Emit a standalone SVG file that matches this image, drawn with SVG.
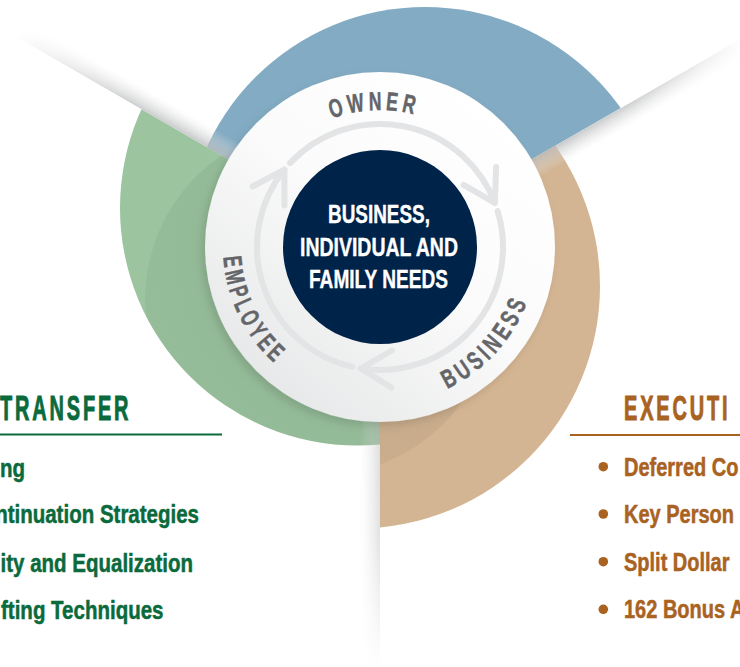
<svg xmlns="http://www.w3.org/2000/svg" width="740" height="667" viewBox="0 0 740 667">
  <defs>
    <style>
      .ring { font-family: "Liberation Sans", Arial, sans-serif; font-weight: 700; font-size: 26px; fill: #646569; stroke: #646569; stroke-width: 0.5px; letter-spacing: 6px; }
      .core { font-family: "Liberation Sans", Arial, sans-serif; font-weight: 700; font-size: 26px; fill: #ffffff; stroke: #ffffff; stroke-width: 0.4px; }
      .head { font-family: "Liberation Sans", Arial, sans-serif; font-weight: 700; font-size: 35px; letter-spacing: 5px; stroke-width: 1px; }
      .item { font-family: "Liberation Sans", Arial, sans-serif; font-weight: 700; font-size: 25px; stroke-width: 0.5px; }
      .green { fill: #0b6a3c; stroke: #0b6a3c; }
      .brown { fill: #a9621f; stroke: #a9621f; }
      .arc { fill: none; stroke: #e3e4e5; stroke-width: 6; stroke-linecap: round; stroke-linejoin: round; }
    </style>
    <clipPath id="wBlue"><polygon points="380,247 -139.6,-53 -139.6,-400 899.6,-400 899.6,-53"/></clipPath>
    <clipPath id="wTan"><polygon points="380,247 899.6,-53 1200,-53 1200,1200 380,1200"/></clipPath>
    <clipPath id="wGreen"><polygon points="380,247 380,1200 -600,1200 -600,-53 -139.6,-53"/></clipPath>
    <clipPath id="cTan"><circle cx="357.5" cy="286" r="242.5"/></clipPath>
    <clipPath id="cGreen"><circle cx="357.5" cy="208" r="237.5"/></clipPath>
    <radialGradient id="lensGrad" gradientUnits="userSpaceOnUse" cx="380" cy="247" r="270">
      <stop offset="0.62" stop-color="#1a2a20" stop-opacity="0.07"/>
      <stop offset="1" stop-color="#1a2a20" stop-opacity="0.04"/>
    </radialGradient>
    <linearGradient id="bandPerp" x1="0" y1="0" x2="0" y2="1">
      <stop offset="0" stop-color="#b9babc" stop-opacity="0.85"/>
      <stop offset="0.5" stop-color="#cfd0d1" stop-opacity="0.45"/>
      <stop offset="1" stop-color="#e8e8e8" stop-opacity="0"/>
    </linearGradient>
    <linearGradient id="bandAlong" x1="0" y1="0" x2="1" y2="0">
      <stop offset="0" stop-color="#fff" stop-opacity="1"/>
      <stop offset="0.5" stop-color="#fff" stop-opacity="0.85"/>
      <stop offset="1" stop-color="#fff" stop-opacity="0"/>
    </linearGradient>
    <mask id="bandFade" maskUnits="userSpaceOnUse" x="0" y="-50" width="500" height="120">
      <rect x="150" y="0" width="270" height="20" fill="url(#bandAlong)"/>
    </mask>
    <linearGradient id="discGrad" x1="0.85" y1="0.1" x2="0.15" y2="0.95">
      <stop offset="0" stop-color="#ffffff"/>
      <stop offset="0.45" stop-color="#fbfbfb"/>
      <stop offset="1" stop-color="#e5e6e7"/>
    </linearGradient>
    <filter id="soft" x="-20%" y="-20%" width="140%" height="140%">
      <feDropShadow dx="-3" dy="4" stdDeviation="4" flood-color="#000" flood-opacity="0.12"/>
    </filter>
    <path id="pTop" d="M243,247 A137,137 0 0 1 517,247"/>
    <path id="pBot" d="M223,247 A157,157 0 0 0 537,247"/>
  </defs>

  <rect width="740" height="667" fill="#ffffff"/>

  <g id="sector-owner">
    <g clip-path="url(#wBlue)">
      <circle cx="425" cy="247" r="240" fill="#83acc4"/>
    </g>
  </g>
  <g id="sector-business">
    <g clip-path="url(#wTan)">
      <circle cx="357.5" cy="286" r="242.5" fill="#d4b593"/>
      <g clip-path="url(#cTan)"><circle cx="320" cy="300" r="175" fill="url(#lensGrad)"/></g>
    </g>
  </g>
  <g id="sector-employee">
    <g clip-path="url(#wGreen)">
      <circle cx="357.5" cy="208" r="237.5" fill="#9cc49f"/>
      <g clip-path="url(#cGreen)"><circle cx="320" cy="300" r="175" fill="url(#lensGrad)"/></g>
    </g>
  </g>

  <g id="dividers">
    <g transform="translate(380,247) rotate(210)">
      <rect x="150" y="0" width="270" height="20" fill="url(#bandPerp)" mask="url(#bandFade)"/>
    </g>
    <g transform="translate(380,247) rotate(330)">
      <rect x="150" y="0" width="270" height="20" fill="url(#bandPerp)" mask="url(#bandFade)"/>
    </g>
    <g transform="translate(380,247) rotate(90)" opacity="0.6">
      <rect x="150" y="0" width="270" height="20" fill="url(#bandPerp)" mask="url(#bandFade)"/>
    </g>
  </g>

  <g id="ring">
    <circle cx="380" cy="247" r="175" fill="url(#discGrad)" filter="url(#soft)"/>
    <text class="ring"><textPath href="#pTop" startOffset="166" textLength="87" lengthAdjust="spacingAndGlyphs">OWNER</textPath></text>
    <text class="ring"><textPath href="#pBot" startOffset="316" textLength="124" lengthAdjust="spacingAndGlyphs">BUSINESS</textPath></text>
    <text class="ring"><textPath href="#pBot" startOffset="10" textLength="124" lengthAdjust="spacingAndGlyphs">EMPLOYEE</textPath></text>
  </g>

  <g id="connectors">
    <path class="arc" d="M290.04,163.11 A123,123 0 0 1 494.83,202.92"/>
    <path class="arc" d="M496.09,166.94 L494.83,202.92 L463.65,184.92"/>
    <path class="arc" d="M497.62,211.04 A123,123 0 0 1 360.76,368.49"/>
    <path class="arc" d="M391.94,350.49 L360.76,368.49 L391.29,387.57"/>
    <path class="arc" d="M352.33,366.85 A123,123 0 0 1 284.41,169.59"/>
    <path class="arc" d="M252.62,186.49 L284.41,169.59 L284.41,205.59"/>
  </g>

  <g id="center-needs">
    <circle cx="380" cy="247" r="97" fill="#00234a"/>
    <text class="core" x="328" y="223" textLength="102" lengthAdjust="spacingAndGlyphs">BUSINESS,</text>
    <text class="core" x="300" y="256" textLength="158" lengthAdjust="spacingAndGlyphs">INDIVIDUAL AND</text>
    <text class="core" x="309" y="288" textLength="139" lengthAdjust="spacingAndGlyphs">FAMILY NEEDS</text>
  </g>

  <g id="list-transfer">
    <text class="head green" transform="translate(0,420) scale(0.57,1)">TRANSFER</text>
    <line x1="0" y1="434.5" x2="222" y2="434.5" stroke="#0b6a3c" stroke-width="2"/>
    <text class="item green" text-anchor="end" transform="translate(25,476.5) scale(0.82,1)">ing</text>
    <text class="item green" text-anchor="end" transform="translate(199,523) scale(0.82,1)">ntinuation Strategies</text>
    <text class="item green" text-anchor="end" transform="translate(193,571.5) scale(0.82,1)">ity and Equalization</text>
    <text class="item green" text-anchor="end" transform="translate(163.5,619) scale(0.82,1)">fting Techniques</text>
  </g>

  <g id="list-executive">
    <text class="head brown" transform="translate(624,420) scale(0.57,1)">EXECUTI</text>
    <line x1="570" y1="435" x2="740" y2="435" stroke="#a9621f" stroke-width="2"/>
    <circle cx="603.3" cy="466.7" r="4.8" fill="#a9621f"/>
    <circle cx="603.3" cy="514" r="4.8" fill="#a9621f"/>
    <circle cx="603.3" cy="561.7" r="4.8" fill="#a9621f"/>
    <circle cx="603.3" cy="609.3" r="4.8" fill="#a9621f"/>
    <text class="item brown" transform="translate(624,476) scale(0.8,1)">Deferred Co</text>
    <text class="item brown" transform="translate(624,523) scale(0.8,1)">Key Person</text>
    <text class="item brown" transform="translate(624,571) scale(0.8,1)">Split Dollar</text>
    <text class="item brown" transform="translate(624,618) scale(0.8,1)">162 Bonus A</text>
  </g>
</svg>
